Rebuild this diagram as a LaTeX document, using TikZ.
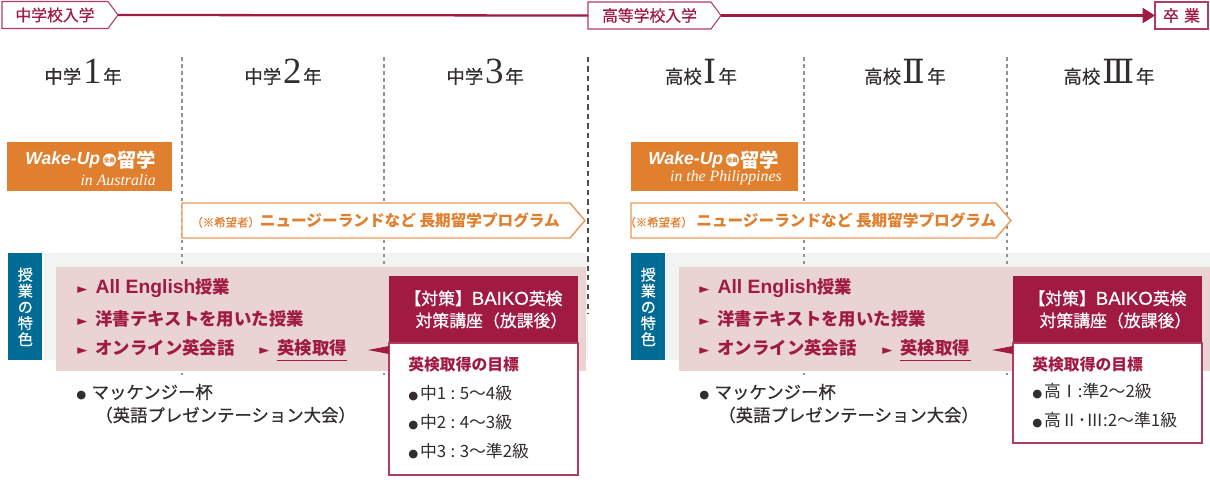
\documentclass[tikz,border=0pt]{standalone}
\usepackage{fontspec}
\setmainfont{Noto Sans CJK JP}
\newfontfamily\medfont[FakeBold=0.6]{Noto Sans CJK JP}
\newfontfamily\serifnum{Liberation Serif}
\newfontfamily\romfont{DejaVu Serif}
\newfontfamily\logofont{Liberation Sans}
\newfontfamily\latinmed[FakeBold=0.5]{Liberation Sans}
\newfontfamily\symfont{DejaVu Sans}
\usetikzlibrary{arrows.meta, positioning, calc, shapes.arrows, shapes.symbols}
\definecolor{crimson}{RGB}{160,26,66}
\definecolor{tagred}{RGB}{178,60,95}
\definecolor{wakeora}{RGB}{224,127,46}
\definecolor{tripora}{RGB}{232,154,86}
\definecolor{featblue}{RGB}{0,107,148}
\definecolor{bandpink}{RGB}{233,211,211}
\definecolor{bandgray}{RGB}{242,244,244}
\definecolor{inkgray}{RGB}{51,46,46}
\newcommand{\fsize}[1]{\fontsize{#1}{#1}\selectfont}
\newcommand{\tribul}{{\symfont\mdseries\fsize{7.5}►}}
\newcommand{\dotbul}{{\symfont\fsize{6.5}●}}
\newcommand{\yearnum}[1]{{\serifnum\fsize{21}\hspace{1pt}#1\hspace{1pt}}}
\newcommand{\yearrom}[1]{{\romfont\fsize{19}\hspace{1pt}#1\hspace{1pt}}}
\newcommand{\tripnote}[1]{{\medfont\mdseries\fsize{6.5}#1}}
\newcommand{\allenglish}{{\logofont\bfseries\fsize{11}All English}}
\newcommand{\baiko}{{\latinmed\fsize{10.6}BAIKO}}
\newcommand{\gcolon}{\hspace{2.5pt}:\hspace{2.5pt}}

\begin{document}
\begin{tikzpicture}[
    x=0.02cm, y=-0.02cm,
    >=Latex,
    tag/.style={shape=signal, signal to=east, signal from=nowhere, signal pointer angle=107,
                draw=tagred, fill=white, line width=0.6pt, text=crimson, font=\medfont\fsize{9},
                minimum height=0.54cm, inner sep=0pt, outer sep=0pt, anchor=west},
    gradbox/.style={draw=tagred, fill=white, line width=0.6pt, text=crimson, font=\medfont\fsize{9},
                minimum height=0.54cm, minimum width=1.06cm, inner sep=0pt, outer sep=0pt, anchor=west},
    timeline/.style={-{Triangle[length=7pt,width=8.5pt]}, crimson, line width=1.3pt},
    yearlbl/.style={text=inkgray, font=\medfont\fsize{10.5}, inner sep=0pt},
    gridln/.style={gray!85, line width=0.6pt, dash pattern=on 2pt off 2pt},
    gridlnd/.style={inkgray!85, line width=0.6pt, dash pattern=on 3pt off 2.4pt},
    wakebox/.style={fill=wakeora, minimum width=3.3cm, minimum height=0.98cm, inner sep=0pt, anchor=north west},
    waketxt/.style={text=white, font=\logofont\bfseries\itshape\fsize{10}, inner sep=0pt, anchor=west},
    wakebadge/.style={circle, fill=white, text=wakeora, font=\bfseries\fsize{3.2}, inner sep=0pt, minimum size=0.26cm},
    wakeryu/.style={text=white, font=\bfseries\fsize{11}, inner sep=0pt},
    wakesub/.style={text=white, font=\serifnum\itshape\fsize{9}, inner sep=0pt, anchor=east},
    trip/.style={shape=signal, signal to=east, signal from=nowhere, signal pointer angle=99,
                draw=tripora, fill=white, line width=0.8pt, minimum height=0.7cm,
                inner sep=0pt, outer sep=0pt, anchor=west},
    triptxt/.style={text=wakeora, font=\bfseries\fsize{8.9}, inner sep=0pt, anchor=west},
    featlbl/.style={fill=featblue, text=white, font=\medfont\fsize{8.6}, align=center, inner sep=0pt,
                minimum width=0.68cm, minimum height=2.14cm, anchor=north west},
    grayband/.style={fill=bandgray, minimum height=2.14cm, inner sep=0pt, anchor=north west},
    pinkband/.style={fill=bandpink, minimum height=2.08cm, inner sep=0pt, anchor=north west},
    feat/.style={text=crimson, font=\bfseries\fsize{9.9}, inner sep=0pt, anchor=west},
    evtxt/.style={text=inkgray, font=\medfont\fsize{9.9}, inner sep=0pt, anchor=west},
    taihead/.style={fill=crimson, text=white, font=\medfont\fsize{9.6}, align=center, inner sep=0pt, outer sep=0pt,
                minimum width=3.78cm, minimum height=1.34cm, anchor=north west},
    goalbox/.style={draw=tagred, fill=white, line width=0.7pt, inner sep=0pt, outer sep=0pt, minimum width=3.78cm},
    goalttl/.style={text=crimson, font=\bfseries\fsize{9}, inner sep=0pt, anchor=west},
    goaltxt/.style={text=inkgray, font=\fsize{9.6}, inner sep=0pt, anchor=west},
    kenline/.style={crimson, line width=0.5pt, double=bandpink, double distance=0.8pt},
]
\useasboundingbox (0,0) rectangle (1210,490);

\node[tag, minimum width=2.32cm] (entryJ) at (2,15) {中学校入学\hspace{0.12cm}};
\node[tag, minimum width=2.66cm] (entryH) at (588,15.5) {高等学校入学\hspace{0.12cm}};
\node[gradbox] (grad) at (1155,15.5) {卒\,\,業};
\draw[timeline, -] (entryJ.east) -- (entryH.west);
\draw[timeline] (entryH.east) -- (grad.west);

\node[grayband, minimum width=10.88cm] (grayJ) at (44,253) {};
\node[grayband, minimum width=10.9cm] (grayH) at (665,253) {};

\coordinate (gridTopA) at (182,57);  \coordinate (gridEndA) at (182,375);
\coordinate (gridTopB) at (384,57);  \coordinate (gridEndB) at (384,375);
\coordinate (gridTopC) at (588,57);  \coordinate (gridEndC) at (588,314);
\coordinate (gridTopD) at (804,57);  \coordinate (gridEndD) at (804,375);
\coordinate (gridTopE) at (1007,57); \coordinate (gridEndE) at (1007,375);
\draw[gridln] (gridTopA) -- (gridEndA);
\draw[gridln] (gridTopB) -- (gridEndB);
\draw[gridlnd] (gridTopC) -- (gridEndC);
\draw[gridln] (gridTopD) -- (gridEndD);
\draw[gridln] (gridTopE) -- (gridEndE);

\node[yearlbl] (year1) at (83,72) {中学\yearnum{1}年};
\node[yearlbl] (year2) at (283,72) {中学\yearnum{2}年};
\node[yearlbl] (year3) at (485,72) {中学\yearnum{3}年};
\node[yearlbl] (yearI) at (701,72) {高校\yearrom{Ⅰ}年};
\node[yearlbl] (yearII) at (905,72) {高校\yearrom{Ⅱ}年};
\node[yearlbl] (yearIII) at (1109,72) {高校\yearrom{Ⅲ}年};

\node[wakebox] (wakeJ) at (7,142) {};
\node[waketxt] (wakeJt) at (25,160) {Wake-Up};
\node[wakebadge, right=0.04cm of wakeJt] (wakeJb) {全員};
\node[wakeryu, right=0.02cm of wakeJb] (wakeJr) {留学};
\node[wakesub] (wakeJs) at (156,180) {in Australia};

\node[wakebox, minimum width=3.34cm] (wakeH) at (631,142) {};
\node[waketxt] (wakeHt) at (648,160) {Wake-Up};
\node[wakebadge, right=0.04cm of wakeHt] (wakeHb) {全員};
\node[wakeryu, right=0.02cm of wakeHb] (wakeHr) {留学};
\node[wakesub] (wakeHs) at (782,178) {in the Philippines};

\node[trip, minimum width=8.06cm] (tripJ) at (182,220.5) {};
\node[triptxt] (tripJt) at (191,220.5) {\tripnote{（※希望者）}ニュージーランドなど 長期留学プログラム};
\node[trip, minimum width=7.6cm] (tripH) at (631,220.5) {};
\node[triptxt] (tripHt) at (624,220.5) {\tripnote{（※希望者）}\hspace{2pt}ニュージーランドなど 長期留学プログラム};

\node[featlbl] (featJ) at (8,253) {授\\[0.6pt]業\\[0.6pt]の\\[0.6pt]特\\[0.6pt]色};
\node[featlbl] (featH) at (631,253) {授\\[0.6pt]業\\[0.6pt]の\\[0.6pt]特\\[0.6pt]色};

\node[pinkband, minimum width=10.6cm] (pinkJ) at (56,267) {};
\node[pinkband, minimum width=10.62cm] (pinkH) at (679,267) {};

\node[feat] (engJ) at (77,288) {\tribul\hspace{4.6pt}\allenglish 授業};
\node[feat] (textJ) at (77,319) {\tribul\hspace{4.6pt}洋書テキストを用いた授業};
\node[feat] (onlineJ) at (77,348) {\tribul\hspace{4.6pt}オンライン英会話};
\node[feat] (kenJ) at (259,348) {\tribul\hspace{4.6pt}英検取得};
\draw[kenline] ([xshift=10.3pt, yshift=-7.9pt]kenJ.west) -- ([yshift=-7.9pt]kenJ.east);

\node[feat] (engH) at (699,288) {\tribul\hspace{4.6pt}\allenglish 授業};
\node[feat] (textH) at (699,319) {\tribul\hspace{4.6pt}洋書テキストを用いた授業};
\node[feat] (onlineH) at (699,348) {\tribul\hspace{4.6pt}オンライン英会話};
\node[feat] (kenH) at (882,348) {\tribul\hspace{4.6pt}英検取得};
\draw[kenline] ([xshift=10.3pt, yshift=-7.9pt]kenH.west) -- ([yshift=-7.9pt]kenH.east);

\node[evtxt] (cupJ) at (76,392) {\dotbul\hspace{3pt}マッケンジー杯};
\node[evtxt] (cupJb) at (95,415) {（英語プレゼンテーション大会）};
\node[evtxt] (cupH) at (699,392) {\dotbul\hspace{3pt}マッケンジー杯};
\node[evtxt] (cupHb) at (718,415) {（英語プレゼンテーション大会）};

\node[taihead] (taiJ) at (389,276) {【対策】\baiko 英検\\[3pt]\hspace{9pt}対策講座（放課後）};
\node[goalbox, below=0pt of taiJ, minimum height=2.64cm] (goalJ) {};
\coordinate (tipJ) at (368,350);
\fill[crimson] (tipJ) -- (goalJ.north west |- 0,346) -- (goalJ.north west |- 0,354) -- cycle;
\node[goalttl] (goalJt) at (408,365) {英検取得の目標};
\node[goaltxt] (goalJa) at (408,393) {\dotbul\hspace{1pt}中1\gcolon 5～4級};
\node[goaltxt] (goalJb) at (408,422) {\dotbul\hspace{1pt}中2\gcolon 4～3級};
\node[goaltxt] (goalJc) at (408,451) {\dotbul\hspace{1pt}中3\gcolon 3～準2級};

\node[taihead] (taiH) at (1013,276) {【対策】\baiko 英検\\[3pt]\hspace{9pt}対策講座（放課後）};
\node[goalbox, below=0pt of taiH, minimum height=2cm] (goalH) {};
\coordinate (tipH) at (992,350);
\fill[crimson] (tipH) -- (goalH.north west |- 0,346) -- (goalH.north west |- 0,354) -- cycle;
\node[goalttl] (goalHt) at (1032,365) {英検取得の目標};
\node[goaltxt] (goalHa) at (1032,391) {\dotbul\hspace{1pt}高Ⅰ:準2～2級};
\node[goaltxt] (goalHb) at (1032,420) {\dotbul\hspace{1pt}高Ⅱ･Ⅲ:2～準1級};
\end{tikzpicture}
\end{document}
